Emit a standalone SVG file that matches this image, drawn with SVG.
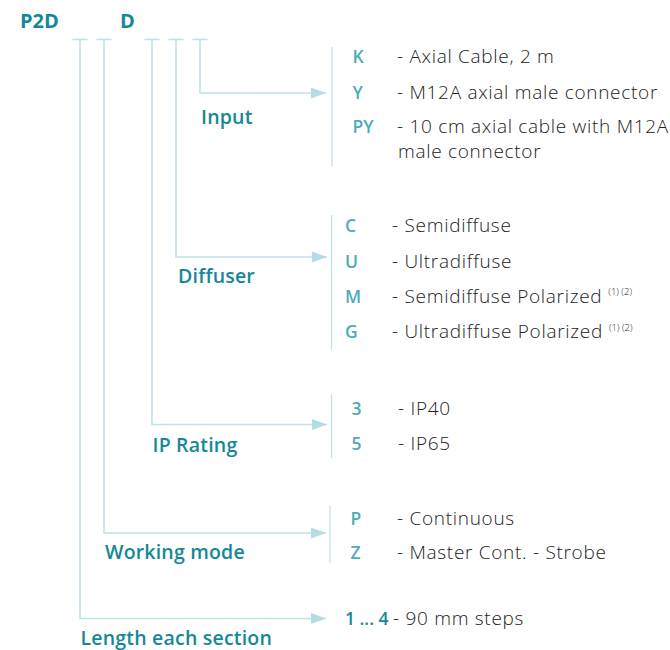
<svg xmlns="http://www.w3.org/2000/svg" width="670" height="650" viewBox="0 0 670 650">
<defs>
<marker id="ah" markerUnits="userSpaceOnUse" markerWidth="16" markerHeight="12" refX="15" refY="6" orient="auto">
<path d="M0,0.5 L15,6 L0,11.5 Z" fill="#b3dde4"/>
</marker>
<style>
.ln{fill:none;stroke:#bfe2e8;stroke-width:1.5}
.br{fill:none;stroke:#bfe2e8;stroke-width:1.3}
.code{font-family:"Open Sans","Liberation Sans",sans-serif;font-size:20px;font-weight:700;fill:#148896}
.lab{font-family:"Open Sans","Liberation Sans",sans-serif;font-size:19.5px;font-weight:600;letter-spacing:0.2px;fill:#148896}
.key{font-family:"Open Sans","Liberation Sans",sans-serif;font-size:17.5px;font-weight:600;fill:#4fabb9}
.key2{font-family:"Open Sans","Liberation Sans",sans-serif;font-size:17.5px;font-weight:600;fill:#148896}
.d{font-family:"Open Sans","Liberation Sans",sans-serif;font-size:19px;font-weight:300;letter-spacing:0.7px;fill:#222222}
.sup{font-size:9.5px;letter-spacing:0}
</style>
</defs>
<rect width="670" height="650" fill="#ffffff"/>
<g id="code">
<text class="code" x="20" y="28">P2D</text>
<text class="code" x="120" y="28">D</text>
</g>
<g id="connectors">
<path class="ln" d="M72.5,39.5 H87.5 M96.5,39.5 H111.5 M144.5,39.5 H159.5 M168.5,39.5 H183.5 M192.5,39.5 H207.5"/>
<path class="ln" d="M200,39.5 V93 H326" marker-end="url(#ah)"/>
<path class="ln" d="M176,39.5 V257 H327" marker-end="url(#ah)"/>
<path class="ln" d="M152,39.5 V424.5 H327" marker-end="url(#ah)"/>
<path class="ln" d="M104,39.5 V533 H326" marker-end="url(#ah)"/>
<path class="ln" d="M80,39.5 V618.5 H326" marker-end="url(#ah)"/>
</g>
<g id="input">
<text class="lab" x="201" y="124">Input</text>
<path class="br" d="M332,47 V166"/>
<text class="key" x="352.5" y="63">K</text>
<text class="d" x="397" y="63">- Axial Cable, 2 m</text>
<text class="key" x="352.5" y="99">Y</text>
<text class="d" x="397" y="99">- M12A axial male connector</text>
<text class="key" x="352.5" y="133">PY</text>
<text class="d" x="397" y="133">- 10 cm axial cable with M12A</text>
<text class="d" x="398" y="158">male connector</text>
</g>
<g id="diffuser">
<text class="lab" x="178" y="283">Diffuser</text>
<path class="br" d="M331.5,215 V350"/>
<text class="key" x="345" y="232">C</text>
<text class="d" x="392" y="232">- Semidiffuse</text>
<text class="key" x="345" y="268">U</text>
<text class="d" x="392" y="268">- Ultradiffuse</text>
<text class="key" x="345" y="303">M</text>
<text class="d" x="392" y="303">- Semidiffuse Polarized<tspan class="sup" dx="6" dy="-8">(1) (2)</tspan></text>
<text class="key" x="345" y="338">G</text>
<text class="d" x="392" y="338">- Ultradiffuse Polarized<tspan class="sup" dx="6" dy="-7">(1) (2)</tspan></text>
</g>
<g id="ip-rating">
<text class="lab" x="152.5" y="452">IP Rating</text>
<path class="br" d="M331.5,394 V458"/>
<text class="key" x="351.5" y="415">3</text>
<text class="d" x="398" y="415">- IP40</text>
<text class="key" x="351.5" y="450">5</text>
<text class="d" x="398" y="450">- IP65</text>
</g>
<g id="working-mode">
<text class="lab" x="105" y="559">Working mode</text>
<path class="br" d="M330,506 V563"/>
<text class="key" x="350.5" y="525">P</text>
<text class="d" x="397" y="525">- Continuous</text>
<text class="key" x="350.5" y="559">Z</text>
<text class="d" x="397" y="559">- Master Cont. - Strobe</text>
</g>
<g id="length">
<text class="lab" x="80.5" y="645">Length each section</text>
<text class="key2" x="345" y="625">1 ... 4</text>
<text class="d" x="393" y="625">- 90 mm steps</text>
</g>
</svg>
